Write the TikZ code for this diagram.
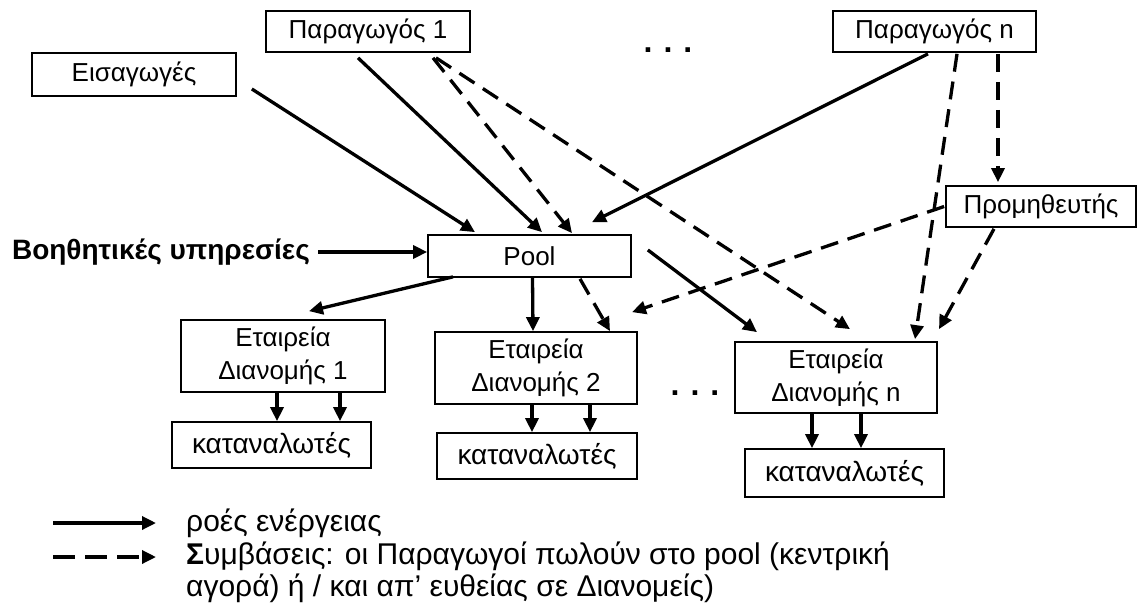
\documentclass[tikz,border=0pt]{standalone}
\usepackage{fontspec}
\setmainfont{Liberation Sans}
\usetikzlibrary{arrows.meta,calc}
\tikzset{
  box/.style={draw, line width=1.7pt, inner sep=0pt, align=center,
    font=\fontsize{26}{33}\selectfont},
  flow/.style={line width=3.3pt, -{Triangle[length=14pt,width=13pt]}},
  contract/.style={flow, dash pattern=on 18pt off 10pt},
  legtext/.style={anchor=base west, inner sep=0pt, font=\fontsize{30}{32}\selectfont},
}
\begin{document}
\begin{tikzpicture}[x=1pt,y=-1pt]
\useasboundingbox (0,0) rectangle (1140,608);
\fill[white] (0,0) rectangle (1140,608);

% producers, imports, supplier
\node[box, minimum width=204pt, minimum height=41pt] (prod1) at (368,31.5) {Παραγωγός 1};
\node[box, minimum width=203pt, minimum height=41pt] (prodn) at (934.5,31.5) {Παραγωγός n};
\node[box, minimum width=204pt, minimum height=43pt] (imp) at (134,74.5) {Εισαγωγές};
\node[box, minimum width=190pt, minimum height=41pt] (supp) at (1041,206.5) {Προμηθευτής};
\node[anchor=base, inner sep=0pt, font=\fontsize{32}{34}\selectfont\bfseries] (dotsA) at (668,52) {.\hspace{11pt}.\hspace{11pt}.};

% pool and ancillary services
\node[box, minimum width=203pt, minimum height=42pt] (pool) at (529.5,256) {Pool};
\node[anchor=east, inner sep=0pt, font=\fontsize{28}{30}\selectfont\bfseries] (aux) at (310,252) {Βοηθητικές υπηρεσίες};

% distribution companies and consumers
\node[box, minimum width=204pt, minimum height=72pt] (ed1) at (283,356) {Εταιρεία\\Διανομής 1};
\node[box, minimum width=202pt, minimum height=72pt] (ed2) at (536,368) {Εταιρεία\\Διανομής 2};
\node[box, minimum width=202pt, minimum height=71pt] (edn) at (836,377.5) {Εταιρεία\\Διανομής n};
\node[box, minimum width=199pt, minimum height=46pt, font=\fontsize{28}{30}\selectfont] (cons1) at (271.5,445) {καταναλωτές};
\node[box, minimum width=200pt, minimum height=46pt, font=\fontsize{28}{30}\selectfont] (cons2) at (537,456) {καταναλωτές};
\node[box, minimum width=199pt, minimum height=48pt, font=\fontsize{28}{30}\selectfont] (consn) at (844.5,473) {καταναλωτές};
\node[anchor=base, inner sep=0pt, font=\fontsize{32}{34}\selectfont\bfseries] (dotsB) at (695,395) {.\hspace{11pt}.\hspace{11pt}.};

% energy flows
\draw[flow] ($(imp.east)+(15,14.5)$) -- ($(pool.north)+(-54.5,-2)$);
\draw[flow] ($(prod1.south)+(-10,5)$) -- ($(pool.north)+(12.5,-2)$);
\draw[flow] ($(prodn.south)+(-6.5,1)$) -- ($(pool.north)+(62.5,-12)$);
\draw[flow] ($(aux.east)+(8,0)$) -- (pool.west |- aux.east);
\draw[flow] ($(pool.south)+(-76.5,-1)$) -- ($(ed1.north)+(26,-8)$);
\draw[flow] ($(pool.south)+(3,0)$) -- ($(ed2.north)+(-3,0)$);
\draw[flow] ($(pool.east)+(16,-6)$) -- ($(edn.north)+(-79,-9)$);
\draw[flow] ($(ed1.south)+(-6,0)$) -- ($(cons1.north)+(5.5,0)$);
\draw[flow] ($(ed1.south)+(57,0)$) -- ($(cons1.north)+(68.5,0)$);
\draw[flow] ($(ed2.south)+(-4,0)$) -- ($(cons2.north)+(-5,0)$);
\draw[flow] ($(ed2.south)+(54,0)$) -- ($(cons2.north)+(53,0)$);
\draw[flow] ($(edn.south)+(-24,0)$) -- ($(consn.north)+(-32.5,0)$);
\draw[flow] ($(edn.south)+(25,0)$) -- ($(consn.north)+(16.5,0)$);

% contracts
\draw[contract] ($(prod1.south)+(65,5)$) -- ($(pool.north)+(42.5,-1)$);
\draw[contract] ($(prod1.south)+(68,5)$) -- ($(edn.north)+(14,-12)$);
\draw[contract] ($(prodn.south)+(63.5,1)$) -- ($(supp.north)+(-43,-3)$);
\draw[contract] ($(prodn.south)+(22.5,1)$) -- ($(edn.north)+(79,-2)$);
\draw[contract] ($(supp.west)+(-1,0)$) -- ($(ed2.north)+(96,-19)$);
\draw[contract] ($(supp.south)+(-47,1)$) -- ($(edn.north)+(103,-12)$);
\draw[contract] ($(pool.south)+(50.5,1)$) -- ($(ed2.north)+(74,0)$);

% legend
\coordinate (l1a) at (53,523);
\coordinate (l1b) at (156,523);
\coordinate (l2a) at (53,557);
\coordinate (l2b) at (156,557);
\draw[flow] (l1a) -- (l1b);
\draw[flow, dash pattern=on 22pt off 10pt] (l2a) -- (l2b);
\node[legtext] (leg1) at (186,531) {ροές ενέργειας};
\node[legtext] (leg2) at (186,564) {\textbf{Σ}υμβάσεις: οι Παραγωγοί πωλούν στο pool (κεντρική};
\node[legtext] (leg3) at (186,596) {αγορά) ή / και απ’ ευθείας σε Διανομείς)};
\end{tikzpicture}
\end{document}
